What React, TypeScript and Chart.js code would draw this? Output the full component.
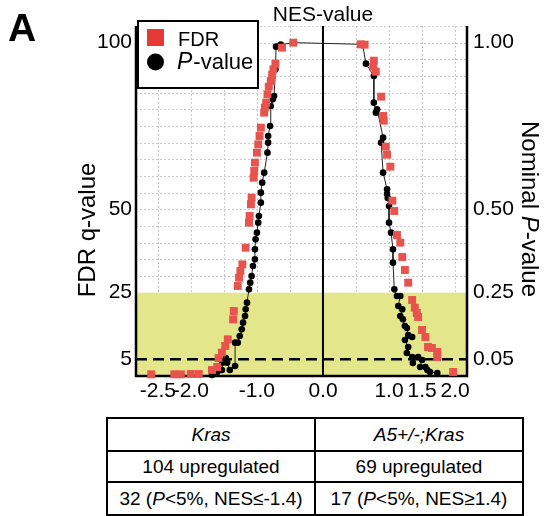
import React, { useEffect, useRef } from 'react';
import { Chart, registerables } from 'chart.js';

Chart.register(...registerables);

const FONT = '"Liberation Sans", Arial, Helvetica, sans-serif';
const W = 549;
const H = 410;

// ---- data ----
const fdrLeftNES = [-2.6, -2.25, -2.15, -2.0, -1.88, -1.68, -1.6, -1.58, -1.53, -1.48, -1.44, -1.36, -1.35, -1.29, -1.27, -1.25, -1.22, -1.17, -1.12, -1.11, -1.09, -1.08, -1.05, -1.04, -1.03, -1.0, -0.98, -0.96, -0.94, -0.89, -0.88, -0.86, -0.84, -0.82, -0.79, -0.77, -0.75, -0.72, -0.62, -0.45];
const fdrLeftQ = [0.5, 0.5, 0.5, 0.6, 0.6, 1.8, 2.7, 5.4, 7.0, 9.0, 11.0, 17.0, 19.5, 27.0, 29.5, 31.5, 33.5, 38.5, 46.0, 48.0, 51.5, 53.5, 59.5, 61.5, 64.0, 67.0, 69.5, 72.0, 74.5, 79.0, 80.5, 82.0, 84.5, 86.8, 88.5, 90.4, 92.0, 93.7, 98.5, 100];

const fdrRightNES = [0.57, 0.63, 0.77, 0.76, 0.8, 0.88, 0.91, 0.92, 0.95, 0.97, 1.02, 1.05, 1.08, 1.12, 1.17, 1.2, 1.24, 1.29, 1.35, 1.39, 1.42, 1.44, 1.5, 1.55, 1.59, 1.65, 1.73, 1.73, 1.97];
const fdrRightQ = [99.5, 99.4, 94.6, 92.8, 91.3, 83.8, 78, 76.6, 68.8, 66.4, 62.8, 52.6, 49.5, 42.3, 40, 35.7, 31.8, 28, 22.8, 20.5, 18.9, 17.7, 13.8, 11.7, 8.7, 8.4, 7.2, 5.7, 1.2];

const pLeftNES = [-1.68, -1.6, -1.53, -1.52, -1.47, -1.45, -1.41, -1.33, -1.33, -1.29, -1.26, -1.23, -1.21, -1.18, -1.17, -1.15, -1.12, -1.1, -1.08, -1.06, -1.03, -1.03, -1.02, -1.0, -0.98, -0.97, -0.94, -0.94, -0.92, -0.89, -0.84, -0.83, -0.83, -0.8, -0.79, -0.76, -0.74, -0.72, -0.71, -0.64, -0.45];
const pLeftVal = [0.3, 1.2, 1.8, 4.0, 5.4, 4.0, 1.8, 3.0, 10.0, 10.0, 12.0, 14.0, 16.0, 18.0, 20.0, 22.0, 26.0, 28.0, 30.0, 33.0, 35.0, 38.0, 41.0, 43.0, 46.0, 48.0, 52.0, 55.0, 58.0, 61.0, 67.0, 70.0, 72.0, 75.0, 81.0, 83.0, 84.0, 92.0, 98.8, 99.4, 100];

const pRightNES = [0.6, 0.65, 0.77, 0.77, 0.8, 0.82, 0.91, 0.88, 0.91, 0.97, 0.97, 0.98, 1.0, 1.0, 1.03, 1.06, 1.06, 1.08, 1.12, 1.17, 1.14, 1.2, 1.17, 1.21, 1.24, 1.27, 1.29, 1.35, 1.24, 1.29, 1.27, 1.35, 1.36, 1.44, 1.5, 1.47, 1.55, 1.58, 1.62, 1.73];
const pRightVal = [99.5, 93.7, 90, 82, 79, 80, 71.5, 70, 61, 56, 54.6, 53.4, 51, 46, 43, 38, 34, 26, 24, 24, 21, 20, 18, 17, 15, 14.4, 12.3, 11.7, 10.8, 8.7, 6.9, 5.7, 3.9, 5.7, 4.8, 2.7, 2.7, 1.8, 1.2, 0.9];

const xTickValues = [-2.5, -2.0, -1.0, 0.0, 1.0, 1.5, 2.0];
const yTickValues = [5, 25, 50, 100];
const rightTickLabels = ['0.05', '0.25', '0.50', '1.00'];
const xGridValues = [-2.5, -2.0, -1.5, -1.0, -0.5, 0.5, 1.0, 1.5, 2.0];
const yGridValues = [30, 35, 40, 45, 50, 55, 60, 65, 70, 75, 80, 85, 90, 95, 100, 105];
const significanceBand = [0, 25];
const cutoffLine = 5;

const decorPlugin = {
  id: 'decor',
  beforeDatasetsDraw(chart: any) {
    const { ctx, chartArea, scales } = chart;
    const { left, right, top, bottom } = chartArea;
    const x = scales.x;
    const y = scales.y;
    ctx.save();
    ctx.strokeStyle = '#c9c9c9';
    ctx.lineWidth = 1;
    ctx.setLineDash([2, 2]);
    yGridValues.forEach((v) => {
      const py = Math.round(y.getPixelForValue(v)) + 0.5;
      ctx.beginPath();
      ctx.moveTo(left, py);
      ctx.lineTo(right, py);
      ctx.stroke();
    });
    xGridValues.forEach((v) => {
      const px = Math.round(x.getPixelForValue(v)) + 0.5;
      ctx.beginPath();
      ctx.moveTo(px, top);
      ctx.lineTo(px, bottom);
      ctx.stroke();
    });
    ctx.setLineDash([]);
    const yb0 = y.getPixelForValue(significanceBand[0]);
    const yb1 = y.getPixelForValue(significanceBand[1]);
    ctx.fillStyle = '#e4e68b';
    ctx.fillRect(left, yb1, right - left, yb0 - yb1);
    const x0 = x.getPixelForValue(0);
    ctx.strokeStyle = '#000';
    ctx.lineWidth = 2;
    ctx.beginPath();
    ctx.moveTo(x0, top);
    ctx.lineTo(x0, bottom);
    ctx.stroke();
    const yc = y.getPixelForValue(cutoffLine);
    ctx.lineWidth = 2.5;
    ctx.setLineDash([11, 6]);
    ctx.beginPath();
    ctx.moveTo(left, yc);
    ctx.lineTo(right, yc);
    ctx.stroke();
    ctx.setLineDash([]);
    ctx.lineWidth = 2.5;
    ctx.beginPath();
    ctx.moveTo(left, top);
    ctx.lineTo(left, bottom);
    ctx.lineTo(right, bottom);
    ctx.lineTo(right, top);
    ctx.stroke();
    ctx.restore();
  },
  afterDraw(chart: any) {
    const { ctx, scales } = chart;
    ctx.save();
    ctx.fillStyle = '#000';
    ctx.font = `bold 39px ${FONT}`;
    ctx.textAlign = 'left';
    ctx.textBaseline = 'alphabetic';
    ctx.fillText('A', 8, 41);
    ctx.font = `21px ${FONT}`;
    ctx.textAlign = 'center';
    ctx.textBaseline = 'middle';
    ctx.fillText('NES-value', scales.x.getPixelForValue(0), 15);
    // left title
    ctx.save();
    ctx.translate(88, 230);
    ctx.rotate(-Math.PI / 2);
    ctx.font = `24px ${FONT}`;
    ctx.fillText('FDR q-value', 0, 0);
    ctx.restore();
    // right title with italic P
    ctx.save();
    ctx.translate(529, 209);
    ctx.rotate(Math.PI / 2);
    ctx.textAlign = 'left';
    const pA = 'Nominal ';
    const pB = 'P';
    const pC = '-value';
    ctx.font = `24px ${FONT}`;
    const wA = ctx.measureText(pA).width;
    const wC = ctx.measureText(pC).width;
    ctx.font = `italic 24px ${FONT}`;
    const wB = ctx.measureText(pB).width;
    let sx = -(wA + wB + wC) / 2;
    ctx.font = `24px ${FONT}`;
    ctx.fillText(pA, sx, 0);
    sx += wA;
    ctx.font = `italic 24px ${FONT}`;
    ctx.fillText(pB, sx, 0);
    sx += wB;
    ctx.font = `24px ${FONT}`;
    ctx.fillText(pC, sx, 0);
    ctx.restore();
    // legend box
    const lx = 138, ly = 21, lw = 120, lh = 67;
    ctx.fillStyle = '#fff';
    ctx.fillRect(lx, ly, lw, lh);
    ctx.strokeStyle = '#000';
    ctx.lineWidth = 2;
    ctx.strokeRect(lx, ly, lw, lh);
    ctx.fillStyle = '#e53935';
    ctx.fillRect(147, 29, 17, 17);
    ctx.fillStyle = '#000';
    ctx.beginPath();
    ctx.arc(155.5, 62, 8.5, 0, Math.PI * 2);
    ctx.fill();
    ctx.textAlign = 'left';
    ctx.textBaseline = 'alphabetic';
    ctx.font = `20px ${FONT}`;
    ctx.fillText('FDR', 178, 46);
    ctx.font = `italic 23px ${FONT}`;
    ctx.fillText('P', 177, 69);
    const wp = ctx.measureText('P').width;
    ctx.font = `22px ${FONT}`;
    ctx.fillText('-value', 177 + wp + 1, 69);
    ctx.restore();
  },
};

function ChartPanel() {
  const ref = useRef<HTMLCanvasElement | null>(null);
  useEffect(() => {
    if (!ref.current) return;
    const fdrData = [
      ...fdrLeftNES.map((v, i) => ({ x: v, y: fdrLeftQ[i] })),
      ...fdrRightNES.map((v, i) => ({ x: v, y: fdrRightQ[i] })),
    ];
    const pData = [
      ...pLeftNES.map((v, i) => ({ x: v, y: pLeftVal[i] })),
      ...pRightNES.map((v, i) => ({ x: v, y: pRightVal[i] })),
    ];
    const tickFont = { family: FONT, size: 21 };
    const chart = new Chart(ref.current, {
      type: 'scatter',
      data: {
        datasets: [
          {
            label: 'FDR',
            data: fdrData,
            showLine: false,
            pointStyle: 'rect',
            pointRadius: 5.6,
            pointBackgroundColor: '#e8534e',
            pointBorderWidth: 0,
            backgroundColor: '#e8534e',
            borderColor: '#e8534e',
          },
          {
            label: 'P-value',
            data: pData,
            showLine: true,
            borderColor: '#222',
            borderWidth: 1,
            pointStyle: 'circle',
            pointRadius: 3.3,
            pointBackgroundColor: '#000',
            pointBorderWidth: 0,
            backgroundColor: '#000',
          },
        ],
      },
      options: {
        responsive: false,
        animation: false,
        devicePixelRatio: 1,
        clip: false,
        layout: { padding: { top: 26, left: 0, right: 0, bottom: 0 } },
        plugins: { legend: { display: false }, tooltip: { enabled: false } },
        scales: {
          x: {
            type: 'linear',
            min: -2.83,
            max: 2.18,
            grid: { display: false, drawTicks: false },
            border: { display: false },
            afterBuildTicks: (s: any) => {
              s.ticks = xTickValues.map((v) => ({ value: v }));
            },
            afterFit: (s: any) => {
              s.height = H - 376;
            },
            ticks: {
              autoSkip: false,
              maxRotation: 0,
              padding: 3,
              color: '#000',
              font: tickFont,
              callback: (v: any) => Number(v).toFixed(1),
            },
          },
          y: {
            type: 'linear',
            position: 'left',
            min: 0,
            max: 105,
            grid: { display: false, drawTicks: false },
            border: { display: false },
            afterBuildTicks: (s: any) => {
              s.ticks = yTickValues.map((v) => ({ value: v }));
            },
            afterFit: (s: any) => {
              s.width = 136;
            },
            ticks: {
              padding: 4,
              color: '#000',
              font: tickFont,
              callback: (v: any) => String(v),
            },
          },
          y2: {
            type: 'linear',
            position: 'right',
            min: 0,
            max: 105,
            grid: { display: false, drawTicks: false },
            border: { display: false },
            afterBuildTicks: (s: any) => {
              s.ticks = yTickValues.map((v) => ({ value: v }));
            },
            afterFit: (s: any) => {
              s.width = W - 467;
            },
            ticks: {
              padding: 6,
              color: '#000',
              font: tickFont,
              callback: (v: any) => {
                const i = yTickValues.indexOf(Number(v));
                return i >= 0 ? rightTickLabels[i] : '';
              },
            },
          },
        },
      },
      plugins: [decorPlugin],
    } as any);
    return () => chart.destroy();
  }, []);
  return <canvas ref={ref} width={W} height={H} style={{ position: 'absolute', left: 0, top: 0, width: W, height: H }} />;
}

const cell: React.CSSProperties = {
  border: '2px solid #000',
  textAlign: 'center',
  verticalAlign: 'middle',
  padding: 0,
  height: 29,
  fontFamily: FONT,
  fontSize: 19,
  color: '#000',
};

export default function App() {
  return (
    <div style={{ position: 'fixed', left: 0, top: 0, width: W, height: 516, background: '#fff', overflow: 'hidden' }}>
      <ChartPanel />
      <table
        style={{
          position: 'absolute',
          left: 106,
          top: 417,
          width: 415,
          borderCollapse: 'collapse',
          tableLayout: 'fixed',
        }}
      >
        <tbody>
          <tr>
            <td style={{ ...cell, width: 206, height: 31 }}><i>Kras</i></td>
            <td style={{ ...cell, width: 206, height: 31 }}><i>A5+/-;Kras</i></td>
          </tr>
          <tr>
            <td style={cell}>104 upregulated</td>
            <td style={cell}>69 upregulated</td>
          </tr>
          <tr>
            <td style={{ ...cell, height: 31 }}>32 (<i>P</i>&lt;5%, NES≤-1.4)</td>
            <td style={{ ...cell, height: 31 }}>17 (<i>P</i>&lt;5%, NES≥1.4)</td>
          </tr>
        </tbody>
      </table>
    </div>
  );
}
